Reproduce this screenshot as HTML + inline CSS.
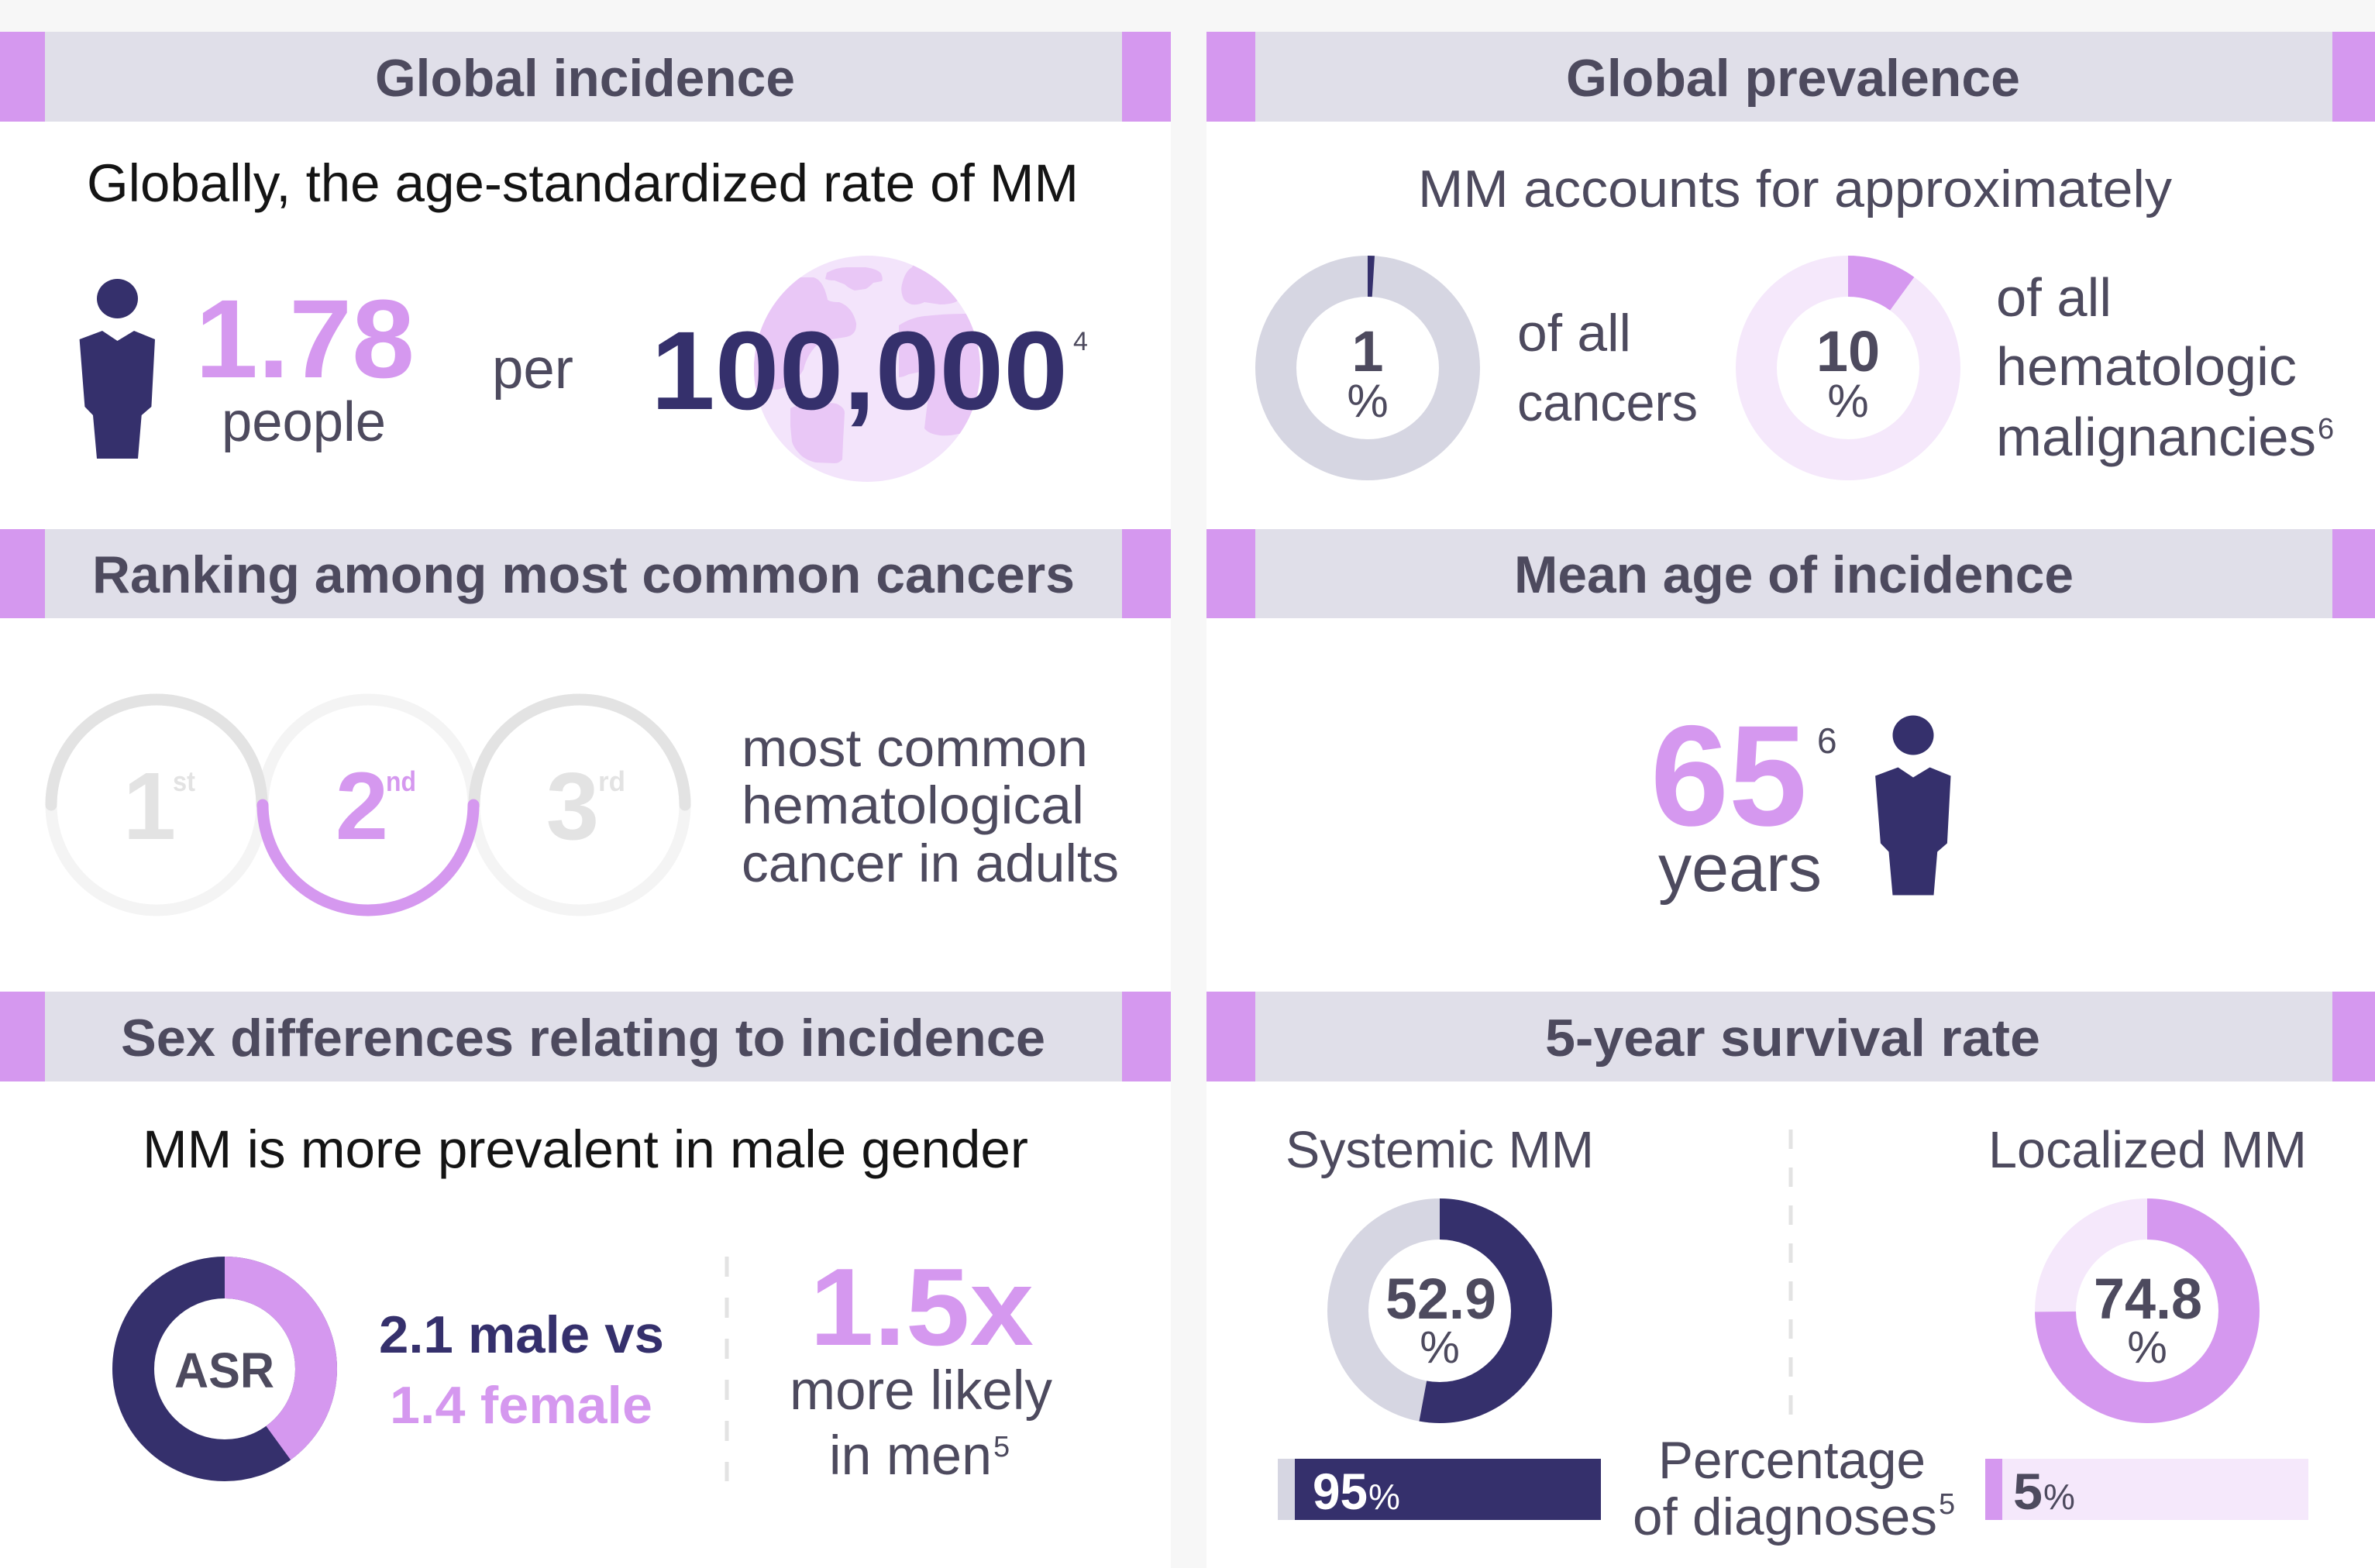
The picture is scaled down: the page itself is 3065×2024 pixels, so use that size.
<!DOCTYPE html>
<html><head><meta charset="utf-8"><style>
html,body{margin:0;padding:0;background:#f7f7f7;}
body{width:3065px;height:2024px;overflow:hidden;}
svg{display:block;}
text{font-family:"Liberation Sans",Arial,sans-serif;}
.h{font-size:68px;font-weight:bold;fill:#4d4a5e;}
.t{fill:#4d4a5e;}
.b{font-weight:bold;}
</style></head><body>
<svg width="3065" height="2024" viewBox="0 0 3065 2024" xmlns="http://www.w3.org/2000/svg">
<defs><clipPath id="gc"><circle cx="1119" cy="476" r="146"/></clipPath></defs>
<rect x="0" y="0" width="3065" height="2024" fill="#f7f7f7"/>
<rect x="0" y="41" width="1511" height="1983" fill="#ffffff"/>
<rect x="1557" y="41" width="1508" height="1983" fill="#ffffff"/>

<!-- headers -->
<g fill="#e0dfe9">
<rect x="0" y="41" width="1511" height="116"/><rect x="1557" y="41" width="1508" height="116"/>
<rect x="0" y="683" width="1511" height="115"/><rect x="1557" y="683" width="1508" height="115"/>
<rect x="0" y="1280" width="1511" height="116"/><rect x="1557" y="1280" width="1508" height="116"/>
</g>
<g fill="#d598ef">
<rect x="0" y="41" width="58" height="116"/><rect x="1448" y="41" width="63" height="116"/>
<rect x="1557" y="41" width="63" height="116"/><rect x="3010" y="41" width="55" height="116"/>
<rect x="0" y="683" width="58" height="115"/><rect x="1448" y="683" width="63" height="115"/>
<rect x="1557" y="683" width="63" height="115"/><rect x="3010" y="683" width="55" height="115"/>
<rect x="0" y="1280" width="58" height="116"/><rect x="1448" y="1280" width="63" height="116"/>
<rect x="1557" y="1280" width="63" height="116"/><rect x="3010" y="1280" width="55" height="116"/>
</g>
<text class="h" x="484" y="124" textLength="542" lengthAdjust="spacingAndGlyphs">Global incidence</text>
<text class="h" x="2021" y="124" textLength="586" lengthAdjust="spacingAndGlyphs">Global prevalence</text>
<text class="h" x="119" y="765" textLength="1268" lengthAdjust="spacingAndGlyphs">Ranking among most common cancers</text>
<text class="h" x="1954" y="765" textLength="722" lengthAdjust="spacingAndGlyphs">Mean age of incidence</text>
<text class="h" x="156" y="1363" textLength="1193" lengthAdjust="spacingAndGlyphs">Sex differences relating to incidence</text>
<text class="h" x="1994" y="1363" textLength="639" lengthAdjust="spacingAndGlyphs">5-year survival rate</text>

<!-- Panel 1 -->
<text x="112" y="260" font-size="69" fill="#141414" textLength="1280" lengthAdjust="spacingAndGlyphs">Globally, the age-standardized rate of MM</text>
<g fill="#35306c">
<ellipse cx="151.5" cy="385.5" rx="26.5" ry="25.5"/>
<path d="M102.6 438 L132 427 L151.5 440 L173 427 L200 438 L195.4 525 L182.7 536 L178 592 L125 592 L120 536 L109.4 525 Z"/>
</g>
<text x="252" y="487" font-size="144" class="b" fill="#d598ef" textLength="283" lengthAdjust="spacingAndGlyphs">1.78</text>
<text class="t" x="286" y="569" font-size="72" textLength="212" lengthAdjust="spacingAndGlyphs">people</text>
<text class="t" x="635" y="501" font-size="73" textLength="105" lengthAdjust="spacingAndGlyphs">per</text>
<circle cx="1119" cy="476" r="146" fill="#f3e4fb"/>
<g clip-path="url(#gc)" fill="#e9c7f6">
<path d="M940 380 L993 377 Q1010 358 1027 358 L1050 358 Q1063 362 1068 387 Q1072 390 1083 390 Q1100 396 1105 417 Q1106 432 1092 435 L1060 440 Q1042 455 1037 477 Q1025 498 1003 503 L940 500 Z"/>
<path d="M1067 352 Q1080 345 1093 345 L1117 345 Q1132 347 1137 353 Q1140 360 1138 363 L1127 365 Q1120 372 1117 373 L1103 375 Q1095 372 1090 367 L1077 362 Q1068 362 1065 360 Z"/>
<path d="M1177 345 L1190 320 L1280 360 L1233 390 Q1225 393 1213 393 L1193 390 Q1185 394 1177 393 Q1167 390 1165 383 Q1162 375 1164 367 Q1168 350 1177 345 Z"/>
<path d="M1160 420 Q1175 410 1193 408 Q1220 405 1243 405 L1290 403 L1290 563 L1237 560 Q1225 563 1213 562 Q1198 560 1193 553 Q1195 535 1197 520 Q1195 495 1187 480 Q1178 482 1173 483 Q1165 487 1160 487 Z"/>
<path d="M1020 527 Q1030 522 1043 522 L1067 520 Q1080 520 1083 523 Q1090 527 1090 533 L1088 570 L1087 593 Q1083 598 1077 598 L1053 597 Q1040 594 1033 587 Q1024 578 1022 570 L1020 550 Z"/>
</g>
<text x="840" y="528" font-size="144" class="b" fill="#35306c" textLength="538" lengthAdjust="spacingAndGlyphs">100,000</text>
<text class="t" x="1385" y="452" font-size="34">4</text>

<!-- Panel 2 -->
<text class="t" x="1830" y="267" font-size="68" textLength="973" lengthAdjust="spacingAndGlyphs">MM accounts for approximately</text>
<circle cx="1765" cy="475" r="118.5" fill="none" stroke="#d6d6e2" stroke-width="53"/>
<circle cx="1765" cy="475" r="118.5" fill="none" stroke="#35306c" stroke-width="53" stroke-dasharray="7.4 800" transform="rotate(-90 1765 475)"/>
<text class="t b" x="1765" y="479" font-size="74" text-anchor="middle">1</text>
<text class="t" x="1765" y="538" font-size="60" text-anchor="middle">%</text>
<text class="t" x="1958" y="453" font-size="68" textLength="147" lengthAdjust="spacingAndGlyphs">of all</text>
<text class="t" x="1958" y="543" font-size="68" textLength="233" lengthAdjust="spacingAndGlyphs">cancers</text>
<circle cx="2385" cy="475" r="118.5" fill="none" stroke="#f5e8fb" stroke-width="53"/>
<circle cx="2385" cy="475" r="118.5" fill="none" stroke="#d598ef" stroke-width="53" stroke-dasharray="74.5 800" transform="rotate(-90 2385 475)"/>
<text class="t b" x="2385" y="479" font-size="74" text-anchor="middle">10</text>
<text class="t" x="2385" y="538" font-size="60" text-anchor="middle">%</text>
<text class="t" x="2576" y="408" font-size="70" textLength="149" lengthAdjust="spacingAndGlyphs">of all</text>
<text class="t" x="2576" y="497" font-size="70" textLength="388" lengthAdjust="spacingAndGlyphs">hematologic</text>
<text class="t" x="2576" y="588" font-size="70" textLength="413" lengthAdjust="spacingAndGlyphs">malignancies</text>
<text class="t" x="2991" y="566" font-size="38">6</text>

<!-- Panel 3 -->
<circle cx="475" cy="1039" r="136" fill="none" stroke="#f4f4f4" stroke-width="15"/>
<circle cx="202" cy="1039" r="136" fill="none" stroke="#f4f4f4" stroke-width="15"/>
<circle cx="748" cy="1039" r="136" fill="none" stroke="#f4f4f4" stroke-width="15"/>
<path d="M66 1039 A136 136 0 0 1 338 1039" fill="none" stroke="#e3e3e3" stroke-width="15" stroke-linecap="round"/>
<path d="M612 1039 A136 136 0 0 1 884 1039" fill="none" stroke="#e3e3e3" stroke-width="15" stroke-linecap="round"/>
<path d="M339 1039 A136 136 0 0 0 611 1039" fill="none" stroke="#d598ef" stroke-width="15" stroke-linecap="round"/>
<text x="193" y="1083" font-size="123" class="b" fill="#e3e3e3" text-anchor="middle">1</text>
<text x="223" y="1021" font-size="36" class="b" fill="#e3e3e3" textLength="29" lengthAdjust="spacingAndGlyphs">st</text>
<text x="467" y="1083" font-size="123" class="b" fill="#d598ef" text-anchor="middle">2</text>
<text x="498" y="1021" font-size="36" class="b" fill="#d598ef" textLength="39" lengthAdjust="spacingAndGlyphs">nd</text>
<text x="739" y="1083" font-size="123" class="b" fill="#e3e3e3" text-anchor="middle">3</text>
<text x="772" y="1021" font-size="36" class="b" fill="#e3e3e3" textLength="35" lengthAdjust="spacingAndGlyphs">rd</text>
<text class="t" x="957" y="989" font-size="69" textLength="447" lengthAdjust="spacingAndGlyphs">most common</text>
<text class="t" x="957" y="1063" font-size="69" textLength="442" lengthAdjust="spacingAndGlyphs">hematological</text>
<text class="t" x="957" y="1138" font-size="69" textLength="487" lengthAdjust="spacingAndGlyphs">cancer in adults</text>

<!-- Panel 4 -->
<text x="2130" y="1065" font-size="185" class="b" fill="#d598ef" textLength="202" lengthAdjust="spacingAndGlyphs">65</text>
<text class="t" x="2345" y="972" font-size="46">6</text>
<text class="t" x="2140" y="1150" font-size="86" textLength="211" lengthAdjust="spacingAndGlyphs">years</text>
<g fill="#35306c" transform="translate(2317.5 563.5)">
<ellipse cx="151.5" cy="385.5" rx="26.5" ry="25.5"/>
<path d="M102.6 438 L132 427 L151.5 440 L173 427 L200 438 L195.4 525 L182.7 536 L178 592 L125 592 L120 536 L109.4 525 Z"/>
</g>

<!-- Panel 5 -->
<text x="184" y="1507" font-size="69" fill="#141414" textLength="1143" lengthAdjust="spacingAndGlyphs">MM is more prevalent in male gender</text>
<circle cx="290" cy="1767" r="118" fill="none" stroke="#35306c" stroke-width="54"/>
<circle cx="290" cy="1767" r="118" fill="none" stroke="#d598ef" stroke-width="54" stroke-dasharray="296.6 800" transform="rotate(-90 290 1767)"/>
<text class="t b" x="225" y="1791" font-size="64" textLength="129" lengthAdjust="spacingAndGlyphs">ASR</text>
<text x="489" y="1746" font-size="68" class="b" fill="#35306c" textLength="368" lengthAdjust="spacingAndGlyphs">2.1 male vs</text>
<text x="503" y="1837" font-size="68" class="b" fill="#d598ef" textLength="339" lengthAdjust="spacingAndGlyphs">1.4 female</text>
<line x1="938" y1="1622" x2="938" y2="1912" stroke="#e3e3e3" stroke-width="5" stroke-dasharray="26 27"/>
<text x="1045" y="1736" font-size="142" class="b" fill="#d598ef" textLength="289" lengthAdjust="spacingAndGlyphs">1.5x</text>
<text class="t" x="1019" y="1819" font-size="71" textLength="339" lengthAdjust="spacingAndGlyphs">more likely</text>
<text class="t" x="1070" y="1903" font-size="71" textLength="210" lengthAdjust="spacingAndGlyphs">in men</text>
<text class="t" x="1282" y="1880" font-size="38">5</text>

<!-- Panel 6 -->
<text class="t" x="1659" y="1507" font-size="67" textLength="398" lengthAdjust="spacingAndGlyphs">Systemic MM</text>
<text class="t" x="2566" y="1507" font-size="67" textLength="411" lengthAdjust="spacingAndGlyphs">Localized MM</text>
<line x1="2311" y1="1458" x2="2311" y2="1829" stroke="#e3e3e3" stroke-width="5" stroke-dasharray="25 24"/>
<circle cx="1858" cy="1692" r="118.5" fill="none" stroke="#d6d6e2" stroke-width="53"/>
<circle cx="1858" cy="1692" r="118.5" fill="none" stroke="#35306c" stroke-width="53" stroke-dasharray="393.9 800" transform="rotate(-90 1858 1692)"/>
<text class="t b" x="1788" y="1702" font-size="74" textLength="143" lengthAdjust="spacingAndGlyphs">52.9</text>
<text class="t" x="1858" y="1759" font-size="58" text-anchor="middle">%</text>
<circle cx="2771" cy="1692" r="118.5" fill="none" stroke="#f5e8fb" stroke-width="53"/>
<circle cx="2771" cy="1692" r="118.5" fill="none" stroke="#d598ef" stroke-width="53" stroke-dasharray="557 800" transform="rotate(-90 2771 1692)"/>
<text class="t b" x="2702" y="1702" font-size="74" textLength="140" lengthAdjust="spacingAndGlyphs">74.8</text>
<text class="t" x="2771" y="1759" font-size="58" text-anchor="middle">%</text>
<rect x="1649" y="1883" width="22" height="79" fill="#d6d6e2"/>
<rect x="1671" y="1883" width="395" height="79" fill="#35306c"/>
<text x="1694" y="1948" font-size="66" class="b" fill="#ffffff" textLength="71" lengthAdjust="spacingAndGlyphs">95</text>
<text x="1766" y="1948" font-size="46" fill="#ffffff">%</text>
<rect x="2562" y="1883" width="22" height="79" fill="#d598ef"/>
<rect x="2584" y="1883" width="395" height="79" fill="#f5e8fb"/>
<text class="t b" x="2598" y="1948" font-size="66" textLength="38" lengthAdjust="spacingAndGlyphs">5</text>
<text class="t" x="2637" y="1948" font-size="46">%</text>
<text class="t" x="2140" y="1908" font-size="68" textLength="345" lengthAdjust="spacingAndGlyphs">Percentage</text>
<text class="t" x="2107" y="1981" font-size="68" textLength="393" lengthAdjust="spacingAndGlyphs">of diagnoses</text>
<text class="t" x="2502" y="1954" font-size="38">5</text>
</svg>
</body></html>
